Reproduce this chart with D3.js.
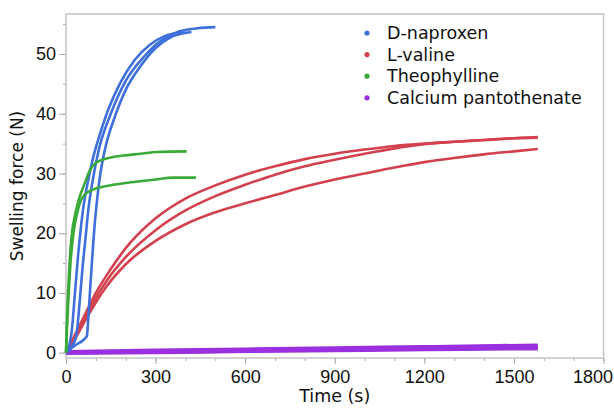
<!DOCTYPE html>
<html>
<head>
<meta charset="utf-8">
<script src="https://cdn.jsdelivr.net/npm/d3@7"></script>
<style>
  body { margin: 0; background: #fff; }
  svg { font-family: "DejaVu Sans", Verdana, sans-serif; }
</style>
</head>
<body>
<svg width="614" height="408"></svg>
<script>
var width = 614, height = 408;
var margin = ({top: 14, right: 10.5, bottom: 50, left: 66});

// tick labels
var xTicks = [0, 300, 600, 900, 1200, 1500, 1800];
var yTicks = [0, 10, 20, 30, 40, 50];

var seriesNames = ["D-naproxen", "L-valine", "Theophylline", "Calcium pantothenate"];
var seriesColors = ["#3e6fdb", "#d3414f", "#3aaa38", "#9a30df"];

// [time (s), force (N)], one array per replicate run
var naproxen1 = [[0,0],[10,1],[20,4],[30,10],[40,16],[50,21],[60,25],[75,29],[90,32.5],[110,36],[140,40.5],[180,45],[230,49],[280,51.5],[330,53],[380,53.5],[400,53.6]];
var naproxen2 = [[0,0],[20,1],[35,3],[45,8],[55,14],[65,19],[75,24],[90,29],[110,34],[150,40],[200,45.5],[260,49.5],[320,52.3],[380,53.8],[440,54.3],[500,54.5]];
var naproxen3 = [[0,0],[30,1.2],[60,2.2],[70,2.8],[75,6],[80,10],[88,16],[97,22],[105,26],[115,30],[135,35],[160,39],[200,44],[250,48],[300,51],[350,52.8],[420,53.7]];

var valine1 = [[0,0],[30,3],[60,6],[100,10],[150,14],[200,17.5],[300,22.5],[400,25.8],[500,28],[600,29.8],[700,31.2],[800,32.4],[900,33.3],[1000,34],[1100,34.6],[1200,35],[1300,35.3],[1400,35.6],[1500,35.9],[1580,36]];
var valine2 = [[0,0],[30,2.5],[60,5.5],[110,10],[150,13],[200,16],[300,20.5],[400,23.8],[500,26.2],[600,28.1],[700,29.8],[800,31.2],[900,32.3],[1000,33.3],[1100,34.2],[1200,34.9],[1300,35.3],[1400,35.6],[1500,35.9],[1580,36.1]];
var valine3 = [[0,0],[30,2.3],[60,5],[120,10],[200,14.8],[300,18.7],[400,21.5],[500,23.5],[600,25],[700,26.4],[800,27.8],[900,29],[1000,30],[1100,31],[1200,31.9],[1300,32.6],[1400,33.2],[1500,33.7],[1580,34.1]];

var theo1 = [[0,0],[3,5],[7,10],[12,15],[20,20],[30,23],[45,26],[60,28],[80,30.5],[100,31.8],[136,32.5],[192,33],[250,33.3],[304,33.6],[404,33.7]];
var theo2 = [[0,0],[4,5],[9,10],[15,15],[25,20],[38,23.5],[50,25.5],[58,26.2],[90,27.3],[136,27.9],[200,28.4],[248,28.7],[300,29],[359,29.3],[435,29.3]];

var calcium1 = [[0,0],[300,0.1],[600,0.3],[900,0.45],[1200,0.6],[1580,0.75]];
var calcium2 = [[0,0.05],[300,0.3],[600,0.5],[900,0.7],[1200,0.9],[1580,1.15]];
var calcium3 = [[0,0],[300,0.2],[600,0.4],[900,0.55],[1200,0.75],[1580,0.95]];

var runs = [
  {s: 3, w: 4.5, pts: calcium1}, {s: 3, w: 4.5, pts: calcium2}, {s: 3, w: 4.5, pts: calcium3},
  {s: 1, w: 2.6, pts: valine1}, {s: 1, w: 2.6, pts: valine2}, {s: 1, w: 2.6, pts: valine3},
  {s: 0, w: 2.6, pts: naproxen1}, {s: 0, w: 2.6, pts: naproxen2}, {s: 0, w: 2.6, pts: naproxen3},
  {s: 2, w: 2.6, pts: theo1}, {s: 2, w: 2.6, pts: theo2}
];

var x = d3.scaleLinear().domain([0, 1800]).range([margin.left, width - margin.right]);
var y = d3.scaleLinear().domain([-0.9, 56.7]).range([358, margin.top]);

var svg = d3.select("svg");

// minor ticks
svg.append("g")
  .attr("transform", "translate(0,358)")
  .call(d3.axisBottom(x).tickValues(d3.range(0, 1801, 100)).tickSize(3).tickFormat(""))
  .call(g => g.select(".domain").remove())
  .selectAll("line").attr("stroke", "#aaa");
svg.append("g")
  .attr("transform", "translate(" + margin.left + ",0)")
  .call(d3.axisLeft(y).tickValues(d3.range(0, 56, 5)).tickSize(3).tickFormat(""))
  .call(g => g.select(".domain").remove())
  .selectAll("line").attr("stroke", "#aaa");

// major axes
var xAxis = svg.append("g")
  .attr("transform", "translate(0,358)")
  .call(d3.axisBottom(x).tickValues(xTicks).tickFormat(d3.format("d")).tickSize(6).tickPadding(6))
  .call(g => g.select(".domain").remove());
xAxis.selectAll("line").attr("stroke", "#aaa");
xAxis.selectAll("text").attr("font-size", 18).attr("fill", "#111").attr("font-family", null);
xAxis.select(".tick:last-of-type text").attr("text-anchor", "end").attr("x", 9);

var yAxis = svg.append("g")
  .attr("transform", "translate(" + margin.left + ",0)")
  .call(d3.axisLeft(y).tickValues(yTicks).tickFormat(d3.format("d")).tickSize(7).tickPadding(3))
  .call(g => g.select(".domain").remove());
yAxis.selectAll("line").attr("stroke", "#aaa");
yAxis.selectAll("text").attr("font-size", 18).attr("fill", "#111").attr("font-family", null);

// frame
svg.append("rect")
  .attr("x", margin.left).attr("y", margin.top)
  .attr("width", width - margin.right - margin.left)
  .attr("height", 358 - margin.top)
  .attr("fill", "none").attr("stroke", "#c4c4c4").attr("stroke-width", 1.5);

// data
var line = d3.line().x(d => x(d[0])).y(d => y(d[1])).curve(d3.curveMonotoneX);
svg.append("g").selectAll("path")
  .data(runs)
  .join("path")
  .attr("d", d => line(d.pts))
  .attr("fill", "none")
  .attr("stroke", d => seriesColors[d.s])
  .attr("stroke-width", d => d.w)
  .attr("stroke-linejoin", "round");

// legend
var legend = svg.append("g").selectAll("g")
  .data(seriesNames)
  .join("g")
  .attr("transform", (d, i) => "translate(367," + (33 + i * 21.6) + ")");
legend.append("circle").attr("r", 2.6).attr("fill", (d, i) => seriesColors[i]);
legend.append("text").attr("x", 20).attr("dy", "0.35em")
  .attr("font-size", 17.5).attr("fill", "#111").text(d => d);

// axis titles
svg.append("text")
  .attr("x", (margin.left + width - margin.right) / 2).attr("y", 402)
  .attr("text-anchor", "middle").attr("font-size", 17.5).attr("fill", "#111")
  .text("Time (s)");
svg.append("text")
  .attr("transform", "translate(17," + (margin.top + 358) / 2 + ") rotate(-90)")
  .attr("text-anchor", "middle").attr("dy", "0.35em").attr("font-size", 17).attr("fill", "#111")
  .text("Swelling force (N)");
</script>
</body>
</html>
